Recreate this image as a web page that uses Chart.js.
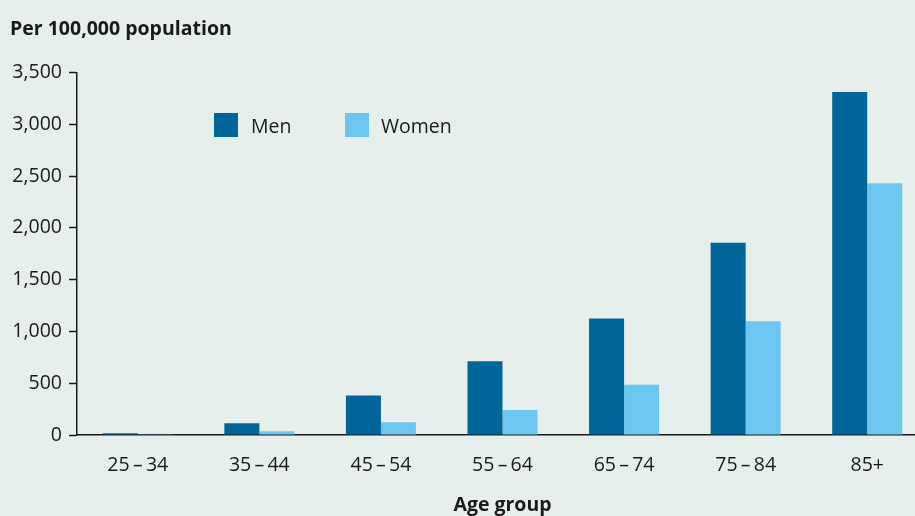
<!DOCTYPE html>
<html>
<head>
<meta charset="utf-8">
<script src="https://cdn.jsdelivr.net/npm/chart.js@4/dist/chart.umd.min.js"></script>
<style>
    html, body { margin: 0; padding: 0; background: #e6efeb; overflow: hidden; }
    #wrap { position: relative; width: 915px; height: 516px; overflow: hidden; }
    #chart { position: absolute; left: 0; top: 0; }
    .legend-item { position: absolute; font-family: "Open Sans", sans-serif; font-size: 19.5px; color: #1a1a1a; line-height: 24px; }
    .legend-box { position: absolute; width: 24px; height: 24px; }
</style>
</head>
<body>
<div id="wrap">
    <canvas id="chart" width="928" height="516"></canvas>
    <div class="legend-box" style="left:214px; top:113px; background:#006699;"></div>
    <div class="legend-item" style="left:251px; top:114px;">Men</div>
    <div class="legend-box" style="left:345px; top:113px; background:#6dc6ef;"></div>
    <div class="legend-item" style="left:381px; top:114px;">Women</div>
</div>
<script>
    // Chart data
    const ageGroups = ['25\u2009\u2013\u200934', '35\u2009\u2013\u200944', '45\u2009\u2013\u200954', '55\u2009\u2013\u200964', '65\u2009\u2013\u200974', '75\u2009\u2013\u200984', '85+'];
    const menRates = [16, 113, 382, 713, 1124, 1856, 3311];
    const womenRates = [2, 36, 122, 241, 485, 1098, 2431];
    const yTicks = [0, 500, 1000, 1500, 2000, 2500, 3000, 3500];

    const fontFamily = '"Open Sans", sans-serif';
    const axisColor = '#1a1a1a';

    // Build the grouped bar chart
    function createChart() {
        const ctx = document.getElementById('chart').getContext('2d');

        new Chart(ctx, {
            type: 'bar',
            data: {
                labels: ageGroups,
                datasets: [{
                    label: 'Men',
                    data: menRates,
                    backgroundColor: '#006699',
                    borderWidth: 0
                }, {
                    label: 'Women',
                    data: womenRates,
                    backgroundColor: '#6dc6ef',
                    borderWidth: 0
                }]
            },
            options: {
                responsive: false,
                animation: false,
                devicePixelRatio: 1,
                categoryPercentage: 0.576,
                barPercentage: 1,
                layout: {
                    padding: { left: 10, right: 0, top: 0, bottom: 0 }
                },
                plugins: {
                    legend: { display: false },
                    tooltip: { enabled: false },
                    title: {
                        display: true,
                        text: 'Per 100,000 population',
                        align: 'start',
                        color: axisColor,
                        font: { family: fontFamily, size: 19.5, weight: 'bold' },
                        padding: { top: 18, bottom: 31 }
                    }
                },
                scales: {
                    y: {
                        min: 0,
                        max: 3500,
                        afterFit: function (scale) {
                            scale.width = 67;
                        },
                        afterBuildTicks: function (scale) {
                            scale.ticks = yTicks.map(v => ({ value: v }));
                        },
                        border: { display: true, color: axisColor, width: 1.5 },
                        grid: {
                            drawOnChartArea: false,
                            drawTicks: true,
                            tickLength: 8,
                            tickWidth: 1.5,
                            tickColor: axisColor
                        },
                        ticks: {
                            color: axisColor,
                            padding: 7,
                            font: { family: fontFamily, size: 19.5 },
                            callback: function (value) {
                                return value.toLocaleString('en-US');
                            }
                        }
                    },
                    x: {
                        afterFit: function (scale) {
                            scale.height = 81;
                        },
                        border: { display: true, color: axisColor, width: 1.5 },
                        grid: { display: false, drawTicks: false },
                        ticks: {
                            color: axisColor,
                            padding: 19,
                            font: { family: fontFamily, size: 19.5 }
                        },
                        title: {
                            display: true,
                            text: 'Age group',
                            color: axisColor,
                            font: { family: fontFamily, size: 19.5, weight: 'bold' },
                            padding: { top: 0, bottom: -1 }
                        }
                    }
                }
            }
        });
    }

    createChart();
</script>
</body>
</html>
